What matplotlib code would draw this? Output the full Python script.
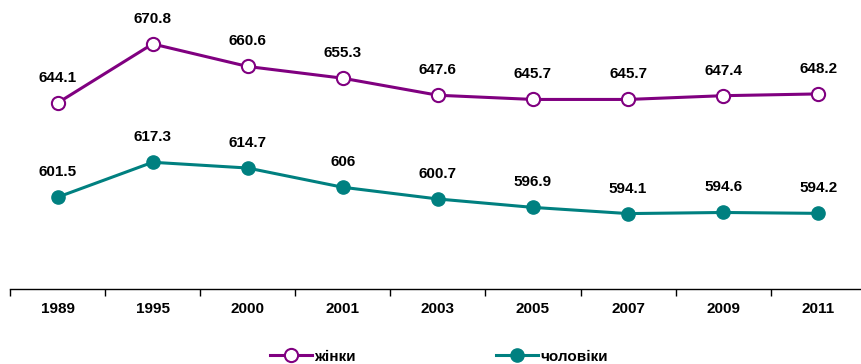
import matplotlib
matplotlib.use("Agg")
import matplotlib.pyplot as plt
import numpy as np

plt.rcParams['font.family'] = ['Liberation Sans', 'DejaVu Sans']

years = ['1989', '1995', '2000', '2001', '2003', '2005', '2007', '2009', '2011']
women = [644.1, 670.8, 660.6, 655.3, 647.6, 645.7, 645.7, 647.4, 648.2]
men = [601.5, 617.3, 614.7, 606, 600.7, 596.9, 594.1, 594.6, 594.2]
women_labels = ['644.1', '670.8', '660.6', '655.3', '647.6', '645.7', '645.7', '647.4', '648.2']
men_labels = ['601.5', '617.3', '614.7', '606', '600.7', '596.9', '594.1', '594.6', '594.2']

purple = '#800080'
teal = '#008080'

fig = plt.figure(figsize=(8.61, 3.64), dpi=100)
# axis runs past the right edge, like the original
ax = fig.add_axes([0.0116, 0.206, 0.994, 0.79])

x = np.arange(len(years))
ax.plot(x, women, color=purple, lw=2.2, marker='o', ms=9.5,
        mfc='white', mec=purple, mew=1.5, label='жінки', clip_on=False)
ax.plot(x, men, color=teal, lw=2.2, marker='o', ms=9.5,
        mfc=teal, mec=teal, label='чоловіки', clip_on=False)

for xi, v, t in zip(x, women, women_labels):
    ax.annotate(t, (xi, v), xytext=(0, 18), textcoords='offset points',
                ha='center', va='center', fontsize=11, fontweight='bold')
for xi, v, t in zip(x, men, men_labels):
    ax.annotate(t, (xi, v), xytext=(0, 18), textcoords='offset points',
                ha='center', va='center', fontsize=11, fontweight='bold')

ax.set_xlim(-0.5, len(years) - 0.5)
ax.set_ylim(560, 690)

# ticks on category boundaries, labels centred
ax.set_xticks(np.arange(-0.5, len(years), 1.0))
ax.set_xticklabels([])
ax.tick_params(axis='x', which='major', length=5, width=1, direction='out')
ax.set_xticks(x, minor=True)
ax.set_xticklabels(years, minor=True, fontsize=11, fontweight='bold')
ax.tick_params(axis='x', which='minor', length=0, pad=9)

ax.set_yticks([])
for s in ['left', 'right', 'top']:
    ax.spines[s].set_visible(False)
ax.spines['bottom'].set_linewidth(1)

leg = fig.legend(loc='center', bbox_to_anchor=(0.51, 0.02), ncol=2,
                 frameon=False, columnspacing=9.2, handlelength=2.75,
                 handletextpad=0.15, prop={'weight': 'bold', 'size': 11})

fig.savefig('out.png', dpi=100)
